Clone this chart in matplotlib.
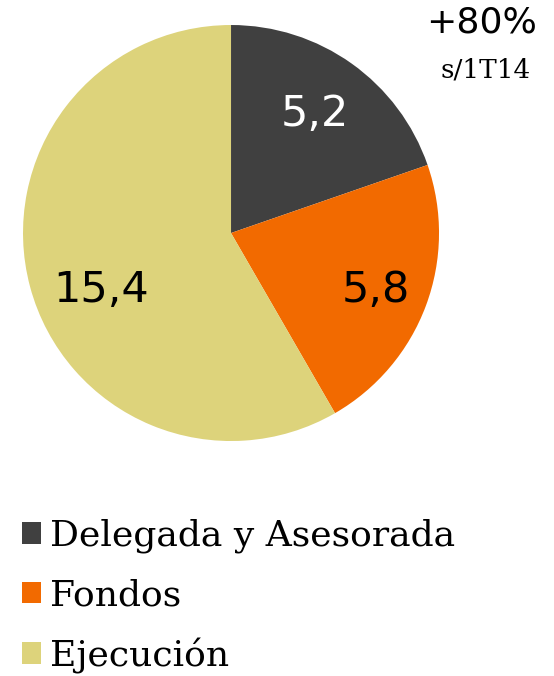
import matplotlib.pyplot as plt
import numpy as np
from matplotlib.patches import Patch

categories = ['Delegada y Asesorada', 'Fondos', 'Ejecución']
values = [5.2, 5.8, 15.4]
value_labels = ['5,2', '5,8', '15,4']
colors = ['#404040', '#F26A00', '#DDD37B']
text_colors = ['white', 'black', 'black']

fig = plt.figure(figsize=(5.54, 6.76), dpi=100)
ax = fig.add_axes([0.0415, 0.3476, 0.751, 0.6154])

wedges, _ = ax.pie(values, colors=colors, startangle=90, counterclock=False,
                   wedgeprops=dict(linewidth=0))
ax.set_xlim(-1, 1)
ax.set_ylim(-1, 1)
ax.set_aspect('equal')

# label positions (radius fraction, angle in deg)
label_pos = [(0.70, 55), (0.75, -21.5), (0.68, 203.7)]
for lab, tc, (r, a) in zip(value_labels, text_colors, label_pos):
    ax.text(r * np.cos(np.radians(a)), r * np.sin(np.radians(a)), lab,
            ha='center', va='center', fontsize=31, color=tc, family='DejaVu Sans')

fig.text(0.869, 0.967, '+80%', ha='center', va='center', fontsize=26, family='DejaVu Sans')
fig.text(0.876, 0.897, 's/1T14', ha='center', va='center', fontsize=19, family='DejaVu Serif')

handles = [Patch(facecolor=c, edgecolor='none') for c in colors]
fig.legend(handles, categories, loc='upper left', bbox_to_anchor=(0.039, 0.233),
           frameon=False, prop={'family': 'DejaVu Serif', 'size': 26},
           handlelength=0.55, handleheight=0.55, handletextpad=0.25,
           labelspacing=0.7, borderpad=0, borderaxespad=0)

fig.savefig('out.png', dpi=100)
